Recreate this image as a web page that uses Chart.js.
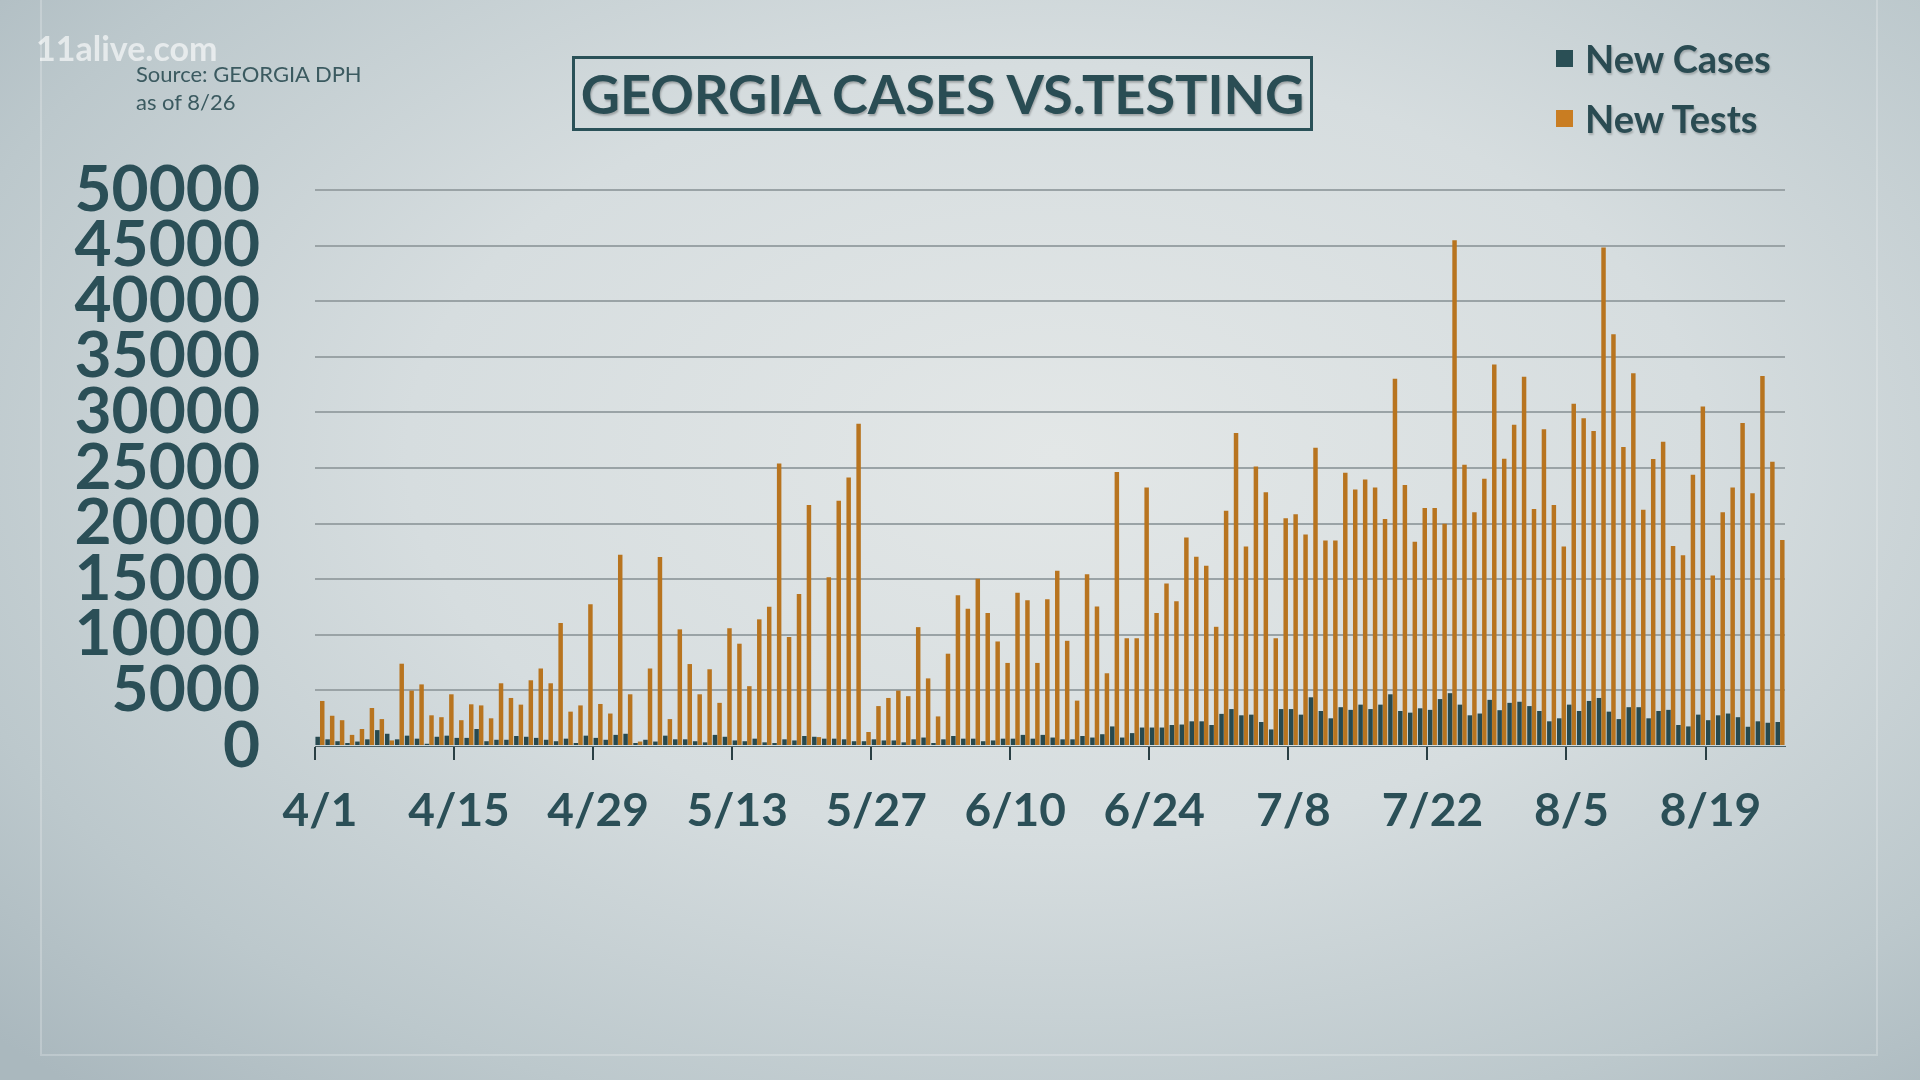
<!DOCTYPE html>
<html>
<head>
<meta charset="utf-8">
<script src="https://cdn.jsdelivr.net/npm/chart.js@4.4.0/dist/chart.umd.min.js"></script>
<style>
  html, body { margin:0; padding:0; width:1920px; height:1080px; overflow:hidden; }
  body {
    background: radial-gradient(ellipse 75% 80% at 55% 42%, #e3e7e7 0%, #d6dddf 45%, #bcc8cc 80%, #aab8be 100%);
    font-family: Lato, "Open Sans", sans-serif;
    position: relative;
  }
  #frame { position:absolute; left:40px; top:-4px; width:1838px; height:1060px; border:2px solid rgba(255,255,255,0.22); box-sizing:border-box; }
  #wrap { position:absolute; left:0; top:0; width:1920px; height:1080px; }
  #watermark { position:absolute; left:36px; top:27px; font-size:34px; font-weight:700; color:rgba(255,255,255,0.62); letter-spacing:0px; white-space:nowrap; }
  #source { position:absolute; left:136px; top:60px; font-size:22px; line-height:28px; color:#3b5a60; white-space:nowrap; }
  #title { position:absolute; left:572px; top:56px; width:741px; height:75px; box-sizing:border-box; border:3px solid #2a5158;
           display:flex; align-items:center; justify-content:center; font-size:54px; font-weight:700; color:#2a4d54;
           text-shadow: 1px 2px 2px rgba(0,0,0,0.25); letter-spacing:0px; white-space:nowrap; overflow:visible; }
  .leg { position:absolute; left:1556px; font-size:38px; font-weight:700; color:#2a4b52; display:flex; align-items:center; text-shadow: 1px 2px 2px rgba(0,0,0,0.2); white-space:nowrap; }
  .leg span.sw { display:inline-block; width:17px; height:17px; margin-right:12px; }
</style>
</head>
<body>
<div id="frame"></div>
<div id="wrap"><canvas id="c" width="1920" height="1080"></canvas></div>
<div id="watermark">11alive.com</div>
<div id="source">Source: GEORGIA DPH<br>as of 8/26</div>
<div id="title">GEORGIA CASES VS.TESTING</div>
<div class="leg" style="top:35px;"><span class="sw" style="background:#2a4f55"></span>New Cases</div>
<div class="leg" style="top:95px;"><span class="sw" style="background:#c97d22"></span>New Tests</div>
<script>
// Categories: daily dates 4/1 .. 8/26
const MONTHS = [4, 5, 6, 7, 8];
const MONTH_DAYS = [30, 31, 30, 31, 26];
const CATEGORIES = [];
MONTHS.forEach((m, i) => { for (let d = 1; d <= MONTH_DAYS[i]; d++) CATEGORIES.push(m + '/' + d); });

const TICK_LABELS = ['4/1','4/15','4/29','5/13','5/27','6/10','6/24','7/8','7/22','8/5','8/19'];
const Y_TICKS = [0,5000,10000,15000,20000,25000,30000,35000,40000,45000,50000];

const NEW_CASES = [
  830,600,430,270,400,600,1430,1100,600,930,660,200,830,930,730,730,1530,430,560,560,
  900,830,730,560,430,660,270,930,730,560,1000,1100,270,560,400,930,600,600,430,330,
  1000,830,500,430,660,330,270,600,500,900,830,660,660,600,430,430,600,500,500,330,
  600,760,270,600,900,660,660,430,500,660,660,1000,660,1000,760,600,600,900,760,1060,
  1760,760,1160,1660,1660,1660,1890,1930,2220,2220,1890,2890,3320,2760,2820,2160,1490,3320,3320,2820,
  4380,3150,2490,3490,3250,3720,3320,3720,4650,3150,3000,3390,3250,4220,4750,3720,2760,2920,4150,3220,
  3880,3980,3590,3150,2220,2490,3720,3150,4050,4320,3090,2420,3490,3490,2490,3150,3250,1890,1760,2820,
  2320,2760,2920,2590,1730,2220,2090,2160
];
const NEW_TESTS = [
  4050,2720,2320,1000,1530,3420,2420,500,7400,4980,5540,2760,2590,4650,2320,3750,3650,2490,5640,4320,
  3720,5910,6970,5640,11060,3090,3650,12750,3780,2920,17200,4650,400,6970,17000,2420,10490,7370,4650,6900,
  3880,10590,9200,5380,11390,12520,25400,9800,13680,21680,800,15170,22050,24140,28980,1260,3590,4320,4980,4480,
  10690,6080,2660,8300,13550,12350,15040,11950,9400,7470,13780,13110,7470,13200,15770,9460,4080,15440,12550,6540,
  24630,9690,9690,23240,11950,14610,13010,18760,17030,16200,10720,21150,28150,17930,25130,22810,9690,20480,20850,19020,
  26830,18490,18490,24570,23070,23970,23240,20420,33030,23470,18360,21410,21410,19990,45480,25300,21020,24040,34300,25830,
  28880,33200,21310,28490,21680,17930,30780,29480,28320,44820,37020,26890,33530,21250,25800,27360,17990,17160,24400,30540,
  15340,21020,23240,29050,22740,33270,25560,18530
];

const TEXT_COLOR = '#2b4f57';

new Chart(document.getElementById('c'), {
  type: 'bar',
  data: {
    labels: CATEGORIES,
    datasets: [
      { label: 'New Cases', data: NEW_CASES, backgroundColor: '#27494f', categoryPercentage: 0.92, barPercentage: 0.98 },
      { label: 'New Tests', data: NEW_TESTS, backgroundColor: '#b8741f', categoryPercentage: 0.92, barPercentage: 0.98 }
    ]
  },
  options: {
    responsive: false,
    animation: false,
    devicePixelRatio: 1,
    layout: { padding: { left: 0, right: 135, top: 190, bottom: 234 } },
    plugins: { legend: { display: false }, tooltip: { enabled: false } },
    scales: {
      x: {
        afterFit: (s) => { s.height = 100; },
        grid: {
          display: true,
          drawOnChartArea: false,
          drawTicks: true,
          tickLength: 14,
          offset: true,
          lineWidth: 2,
          color: (ctx) => (ctx.index % 14 === 0 ? '#2a3f44' : 'rgba(0,0,0,0)')
        },
        border: { display: true, color: '#4d6165', width: 1 },
        ticks: {
          autoSkip: false,
          maxRotation: 0,
          minRotation: 0,
          padding: 24,
          color: TEXT_COLOR,
          font: { family: 'Lato', weight: '700', size: 46 },
          callback: function (val, idx) {
            const c = CATEGORIES[idx];
            return TICK_LABELS.includes(c) ? c : '';
          }
        }
      },
      y: {
        min: 0,
        max: 50000,
        afterFit: (s) => { s.width = 315; },
        afterBuildTicks: (s) => { s.ticks = Y_TICKS.map(v => ({ value: v })); },
        grid: {
          drawTicks: false,
          lineWidth: 2,
          color: (ctx) => (ctx.tick && ctx.tick.value === 0 ? 'rgba(0,0,0,0)' : '#9aa3a6')
        },
        border: { display: false },
        ticks: {
          autoSkip: false,
          padding: 55,
          color: TEXT_COLOR,
          font: { family: 'Lato', weight: '700', size: 64 },
          callback: (v) => String(v)
        }
      }
    }
  }
});
</script>
</body>
</html>
